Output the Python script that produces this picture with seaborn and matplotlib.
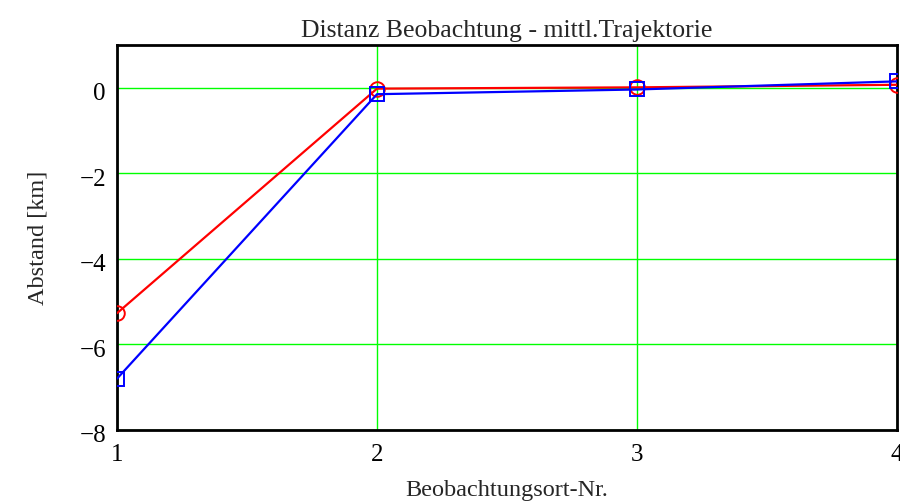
import matplotlib
matplotlib.use("Agg")
import matplotlib.pyplot as plt
import matplotlib.transforms as mtransforms
import seaborn as sns
import pandas as pd

# Observation site numbers and distances to mean trajectory (km)
orte = [1, 2, 3, 4]
abstand_rot = [-5.27, -0.02, 0.01, 0.07]
abstand_blau = [-6.8, -0.15, -0.04, 0.15]

sns.set_theme(style="white")
plt.rcParams["font.family"] = ["Liberation Serif", "DejaVu Serif"]

df = pd.DataFrame({
    "Ort": orte * 2,
    "Abstand": abstand_rot + abstand_blau,
    "Reihe": ["rot"] * len(orte) + ["blau"] * len(orte),
})

fig = plt.figure(figsize=(9.0, 5.01), dpi=100)
ax = fig.add_axes([117 / 900, 71 / 501, 780 / 900, 385 / 501])

sns.lineplot(data=df[df.Reihe == "rot"], x="Ort", y="Abstand", ax=ax,
             color="#ff0000", lw=1.6, marker="o", markersize=10.5,
             markerfacecolor="none", markeredgecolor="#ff0000",
             markeredgewidth=1.4, zorder=3)
sns.lineplot(data=df[df.Reihe == "blau"], x="Ort", y="Abstand", ax=ax,
             color="#0000ff", lw=1.6, marker="s", markersize=9.5,
             markerfacecolor="none", markeredgecolor="#0000ff",
             markeredgewidth=1.4, zorder=4)

ax.set_xlim(1, 4)
ax.set_ylim(-8, 1)
ax.set_xticks(orte)
ax.set_xticklabels([str(o) for o in orte])
ax.set_yticks([0, -2, -4, -6, -8])
ax.set_yticklabels(["0", "\u22122", "\u22124", "\u22126", "\u22128"])
ax.tick_params(axis="both", length=0, labelsize=18, colors="black")
ax.tick_params(axis="x", pad=10)
ax.tick_params(axis="y", pad=8)

# y tick labels sit slightly below their grid lines
shift = mtransforms.ScaledTranslation(0, -4 / 100, fig.dpi_scale_trans)
for lbl in ax.get_yticklabels():
    lbl.set_transform(lbl.get_transform() + shift)

ax.grid(True, color="#00ff00", lw=1.0)
ax.set_axisbelow(True)
for s in ax.spines.values():
    s.set_color("black")
    s.set_linewidth(2.0)

ax.set_title("Distanz Beobachtung - mittl.Trajektorie", fontsize=18.5, pad=6)
ax.set_xlabel("Beobachtungsort-Nr.", fontsize=17.5, labelpad=10)
ax.set_ylabel("Abstand [km]", fontsize=17.5, labelpad=22)

fig.savefig("out.png", dpi=100)
